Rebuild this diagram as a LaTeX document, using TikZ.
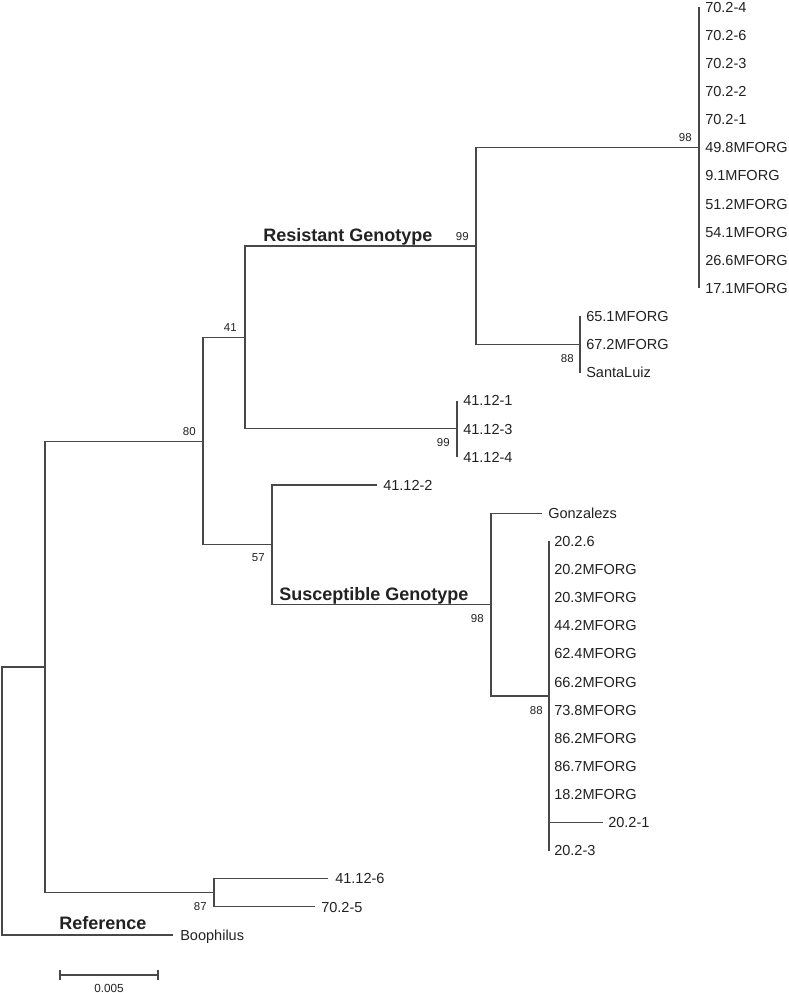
\documentclass[tikz,border=0pt]{standalone}
\usepackage{fontspec}
\setmainfont{Liberation Sans}
\definecolor{ln}{HTML}{484848}
\definecolor{tx}{HTML}{222222}
\begin{document}
\begin{tikzpicture}[x=0.75pt,y=-0.75pt,
  br/.style={draw=ln,line width=0.9pt,line join=miter},
  leaf/.style={anchor=base west,inner sep=0pt,text=tx,font=\fontsize{10.9}{12}\selectfont,yshift=-3.9pt},
  boot/.style={anchor=base east,inner sep=0pt,text=tx,font=\fontsize{8.6}{10}\selectfont},
  clade/.style={anchor=base west,inner sep=0pt,text=tx,font=\bfseries\fontsize{13.5}{15}\selectfont},
  scalelab/.style={anchor=base,inner sep=0pt,text=tx,font=\fontsize{8.8}{10}\selectfont}]
\fill[white] (0,0) rectangle (789,993);
\useasboundingbox (0,0) rectangle (789,993);

% leaf tips and labels
\foreach \i/\tx/\lx/\name in {
  0/699/705/70.2-4, 1/699/705/70.2-6, 2/699/705/70.2-3, 3/699/705/70.2-2,
  4/699/705/70.2-1, 5/699/705/49.8MFORG, 6/699/705/9.1MFORG, 7/699/705/51.2MFORG,
  8/699/705/54.1MFORG, 9/699/705/26.6MFORG, 10/699/705/17.1MFORG,
  11/580/586/65.1MFORG, 12/580/586/67.2MFORG, 13/580/586/SantaLuiz,
  14/457/463/41.12-1, 15/457/463/41.12-3, 16/457/463/41.12-4,
  17/377/383/41.12-2, 18/542/548/Gonzalezs,
  19/549/554/20.2.6, 20/549/554/20.2MFORG, 21/549/554/20.3MFORG, 22/549/554/44.2MFORG,
  23/549/554/62.4MFORG, 24/549/554/66.2MFORG, 25/549/554/73.8MFORG, 26/549/554/86.2MFORG,
  27/549/554/86.7MFORG, 28/549/554/18.2MFORG, 29/603/608/20.2-1, 30/549/554/20.2-3,
  31/328/335/41.12-6, 32/315/321/70.2-5, 33/173/180/Boophilus}{
  \coordinate (t\i) at (\tx,{7+28.12*\i});
  \node[leaf] (l\i) at (\lx,{7+28.12*\i}) {\name};
}

% internal nodes
\coordinate (root) at (2,801);
\coordinate (n45) at (45,667);
\coordinate (n80) at (203,441.1);
\coordinate (n87) at (214,892.8);
\coordinate (n41) at (245,337.4);
\coordinate (n57) at (272,544.8);
\coordinate (n99a) at (476,246);
\coordinate (n99b) at (457,428.8);
\coordinate (n98a) at (699,147.6);
\coordinate (n88a) at (580,344.4);
\coordinate (n98b) at (491,604.6);
\coordinate (n88b) at (549,696);

% branches
\draw[br] (root) |- (n45);
\draw[br] (root) |- (t33);
\draw[br] (n45) |- (n80);
\draw[br] (n45) |- (n87);
\draw[br] (n80) |- (n41);
\draw[br] (n80) |- (n57);
\draw[br] (n41) |- (n99a);
\draw[br] (n41) |- (n99b);
\draw[br] (n99a) |- (n98a);
\draw[br] (n99a) |- (n88a);
\draw[br] (t0) -- (t10);
\draw[br] (t11) -- (t13);
\draw[br] (t14) -- (t16);
\draw[br] (n57) |- (t17);
\draw[br] (n57) |- (n98b);
\draw[br] (n98b) |- (t18);
\draw[br] (n98b) |- (n88b);
\draw[br] (t19) -- (t30);
\draw[br] (n88b) |- (t29);
\draw[br] (n87) |- (t31);
\draw[br] (n87) |- (t32);

% bootstrap values
\node[boot] (b1) at (692,141) {98};
\node[boot] (b2) at (469,240) {99};
\node[boot] (b3) at (237,331) {41};
\node[boot] (b4) at (574,362) {88};
\node[boot] (b5) at (196,435) {80};
\node[boot] (b6) at (450,446) {99};
\node[boot] (b7) at (265,561) {57};
\node[boot] (b8) at (484,622) {98};
\node[boot] (b9) at (543,714) {88};
\node[boot] (b10) at (207,910) {87};

% clade labels
\node[clade] (res) at (263,241) {Resistant Genotype};
\node[clade] (sus) at (279,600) {Susceptible Genotype};
\node[clade] (ref) at (59,929) {Reference};

% scale bar
\coordinate (s1) at (60,975);
\coordinate (s2) at (158,975);
\draw[br] (s1) -- (s2);
\draw[br] ([yshift=3.75pt]s1) -- ([yshift=-3.75pt]s1);
\draw[br] ([yshift=3.75pt]s2) -- ([yshift=-3.75pt]s2);
\node[scalelab] (sl) at (109,992) {0.005};
\end{tikzpicture}
\end{document}
